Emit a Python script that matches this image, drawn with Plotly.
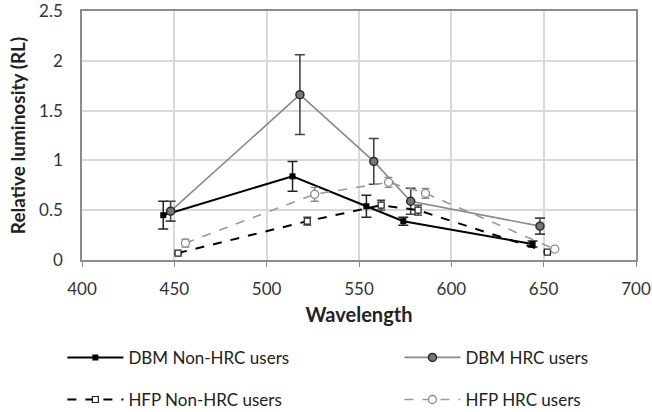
import plotly.graph_objects as go

# Wavelength (nm) of each measurement, offset slightly per group
x_dbm_non = [444, 514, 554, 574, 644]
x_dbm_hrc = [448, 518, 558, 578, 648]
x_hfp_non = [452, 522, 562, 582, 652]
x_hfp_hrc = [456, 526, 566, 586, 656]

# Relative luminosity means
y_dbm_non = [0.45, 0.84, 0.54, 0.39, 0.16]
y_dbm_hrc = [0.49, 1.66, 0.99, 0.59, 0.34]
y_hfp_non = [0.07, 0.39, 0.55, 0.50, 0.08]
y_hfp_hrc = [0.17, 0.66, 0.78, 0.67, 0.11]

# Error bar half-widths
e_dbm_non = [0.14, 0.15, 0.11, 0.04, 0.03]
e_dbm_hrc = [0.10, 0.40, 0.23, 0.13, 0.08]
e_hfp_non = [0.01, 0.04, 0.05, 0.05, 0.01]
e_hfp_hrc = [0.04, 0.07, 0.05, 0.05, 0.01]

names = ["DBM Non-HRC users", "DBM HRC users", "HFP Non-HRC users", "HFP HRC users"]

FONT = "Lato, 'Open Sans', sans-serif"

fig = go.Figure()

fig.add_trace(go.Scatter(
    x=x_dbm_non, y=y_dbm_non, name=names[0], mode="lines+markers",
    line=dict(color="#000000", width=2),
    marker=dict(symbol="square", size=6, color="#000000"),
    error_y=dict(type="data", array=e_dbm_non, color="#222222", thickness=1.5, width=5),
    legend="legend", showlegend=True,
))
fig.add_trace(go.Scatter(
    x=x_dbm_hrc, y=y_dbm_hrc, name=names[1], mode="lines+markers",
    line=dict(color="#8a8a8a", width=1.6),
    marker=dict(symbol="circle", size=8, color="#777777", line=dict(color="#2a2a2a", width=1.5)),
    error_y=dict(type="data", array=e_dbm_hrc, color="#444444", thickness=1.6, width=5),
    legend="legend2", showlegend=True,
))
fig.add_trace(go.Scatter(
    x=x_hfp_non, y=y_hfp_non, name=names[2], mode="lines+markers",
    line=dict(color="#000000", width=2, dash="dash"),
    marker=dict(symbol="square", size=6, color="#ffffff", line=dict(color="#222222", width=1.2)),
    error_y=dict(type="data", array=e_hfp_non, color="#333333", thickness=1.3, width=4),
    legend="legend3", showlegend=True,
))
fig.add_trace(go.Scatter(
    x=x_hfp_hrc, y=y_hfp_hrc, name=names[3], mode="lines+markers",
    line=dict(color="#9a9a9a", width=1.6, dash="dash"),
    marker=dict(symbol="circle", size=8, color="#ffffff", line=dict(color="#8a8a8a", width=1.3)),
    error_y=dict(type="data", array=e_hfp_hrc, color="#8a8a8a", thickness=1.3, width=4),
    legend="legend4", showlegend=True,
))

# One legend box per entry: a 2 x 2 grid below the axes
legend_common = dict(
    orientation="h", itemwidth=56,
    font=dict(family=FONT, size=17, color="#222222"),
    bgcolor="rgba(0,0,0,0)", xanchor="left", yanchor="middle",
    itemclick=False, itemdoubleclick=False,
)
col_x = [-0.0354, 0.573]
row_y = [-0.393, -0.562]

fig.update_layout(
    width=652, height=412,
    showlegend=True,
    margin=dict(l=82, r=16, t=11, b=152, autoexpand=False),
    paper_bgcolor="white", plot_bgcolor="white",
    font=dict(family=FONT, size=17, color="#333333"),
    legend=dict(x=col_x[0], y=row_y[0], **legend_common),
    legend2=dict(x=col_x[1], y=row_y[0], **legend_common),
    legend3=dict(x=col_x[0], y=row_y[1], **legend_common),
    legend4=dict(x=col_x[1], y=row_y[1], **legend_common),
    xaxis=dict(
        range=[400, 700], dtick=50, tick0=400,
        showgrid=True, gridcolor="#d9d9d9", gridwidth=1.5,
        showline=True, linecolor="#8c8c8c", linewidth=1.5, mirror=True,
        ticks="outside", ticklen=5, tickcolor="#8c8c8c",
        ticklabelstandoff=8, ticklabeloverflow="allow",
        tickfont=dict(family=FONT, size=17, color="#333333"),
        title=dict(text="<b>Wavelength</b>", font=dict(family=FONT, size=20, color="#222222"), standoff=10),
        zeroline=False,
    ),
    yaxis=dict(
        range=[0, 2.5], dtick=0.5,
        showgrid=True, gridcolor="#d9d9d9", gridwidth=1.5,
        showline=True, linecolor="#8c8c8c", linewidth=1.5, mirror=True,
        ticks="", ticklabelstandoff=14, ticklabeloverflow="allow",
        tickfont=dict(family=FONT, size=17, color="#333333"),
        title=dict(text="<b>Relative luminosity (RL)</b>", font=dict(family=FONT, size=19, color="#222222"), standoff=8),
        zeroline=False,
    ),
)

fig.write_html("out.html")
